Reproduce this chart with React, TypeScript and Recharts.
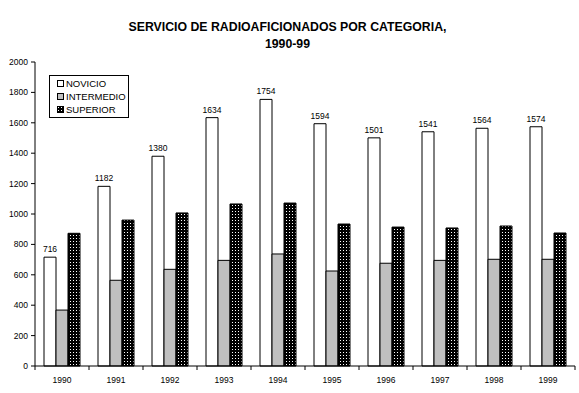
import { Bar, BarChart, XAxis, YAxis, LabelList } from "recharts";

const years = ["1990", "1991", "1992", "1993", "1994", "1995", "1996", "1997", "1998", "1999"];
const novicio = [716, 1182, 1380, 1634, 1754, 1594, 1501, 1541, 1564, 1574];
const intermedio = [368, 564, 636, 695, 737, 625, 676, 695, 702, 702];
const superior = [873, 960, 1007, 1066, 1072, 934, 914, 908, 921, 875];
const yTicks = [0, 200, 400, 600, 800, 1000, 1200, 1400, 1600, 1800, 2000];

const data = years.map((year, i) => ({
  year,
  novicio: novicio[i],
  intermedio: intermedio[i],
  superior: superior[i],
}));

const font = "Arial, 'Liberation Sans', sans-serif";
const BAND = 54;

// ticks sit on the category boundaries, labels in the middle
const XTick = (props: any) => {
  const { x, y, payload, index } = props;
  const left = x - BAND / 2;
  return (
    <g>
      <line x1={left} y1={y} x2={left} y2={y + 4} stroke="#000" />
      {index === years.length - 1 && (
        <line x1={left + BAND} y1={y} x2={left + BAND} y2={y + 4} stroke="#000" />
      )}
      <text x={x} y={y + 17} textAnchor="middle" fontSize={8.5} fontFamily={font} fill="#000">
        {payload.value}
      </text>
    </g>
  );
};

const legendItems = [
  { label: "NOVICIO", fill: "#fff" },
  { label: "INTERMEDIO", fill: "#c0c0c0" },
  { label: "SUPERIOR", fill: "url(#ldots)" },
];

const ChartLegend = () => (
  <div
    style={{
      position: "absolute",
      left: 49,
      top: 75,
      border: "1px solid #000",
      width: 80,
      height: 43,
      boxSizing: "border-box",
      padding: "1px 0 0 7px",
      background: "#fff",
      fontFamily: font,
      fontSize: 9.5,
      lineHeight: "13px",
    }}
  >
    <svg width={0} height={0} style={{ position: "absolute" }}>
      <defs>
        <pattern id="ldots" width={3} height={3} patternUnits="userSpaceOnUse">
          <rect width={3} height={3} fill="#000" />
          <rect x={1} y={1} width={1} height={1} fill="#fff" />
        </pattern>
      </defs>
    </svg>
    {legendItems.map((it) => (
      <div key={it.label} style={{ display: "flex", alignItems: "center" }}>
        <svg width={7} height={7} style={{ marginRight: 2 }}>
          <rect x={0.5} y={0.5} width={6} height={6} fill={it.fill} stroke="#000" />
        </svg>
        <span>{it.label}</span>
      </div>
    ))}
  </div>
);

export default function App() {
  return (
    <div style={{ position: "absolute", left: 0, top: 0, width: 579, height: 393, background: "#fff" }}>
      <div
        style={{
          position: "absolute",
          left: 0,
          top: 19,
          width: 575,
          textAlign: "center",
          fontFamily: font,
          fontWeight: "bold",
          fontSize: 12.3,
          lineHeight: "17px",
        }}
      >
        SERVICIO DE RADIOAFICIONADOS POR CATEGORIA,
        <br />
        1990-99
      </div>
      <BarChart
        width={579}
        height={393}
        data={data}
        margin={{ top: 62, right: 4, left: 0, bottom: 0 }}
        barGap={0}
        barSize={12}
      >
        <defs>
          <pattern id="dots" width={3} height={3} patternUnits="userSpaceOnUse">
            <rect width={3} height={3} fill="#000" />
            <rect x={1} y={1} width={1} height={1} fill="#fff" />
          </pattern>
        </defs>
        <XAxis
          dataKey="year"
          height={27}
          stroke="#000"
          tickLine={false}
          tickSize={0}
          tickMargin={0}
          tick={<XTick />}
          interval={0}
        />
        <YAxis
          width={35}
          domain={[0, 2000]}
          ticks={yTicks}
          interval={0}
          stroke="#000"
          tickSize={4}
          tickMargin={3}
          tick={{ fontSize: 8.5, fontFamily: font, fill: "#000" }}
        />
        <Bar dataKey="novicio" fill="#fff" stroke="#000" strokeWidth={1} isAnimationActive={false}>
          <LabelList
            dataKey="novicio"
            position="top"
            offset={5}
            style={{ fontSize: 8.5, fontFamily: font, fill: "#000" }}
          />
        </Bar>
        <Bar dataKey="intermedio" fill="#c0c0c0" stroke="#000" strokeWidth={1} isAnimationActive={false} />
        <Bar dataKey="superior" fill="url(#dots)" stroke="#000" strokeWidth={1} isAnimationActive={false} />
      </BarChart>
      <ChartLegend />
    </div>
  );
}
